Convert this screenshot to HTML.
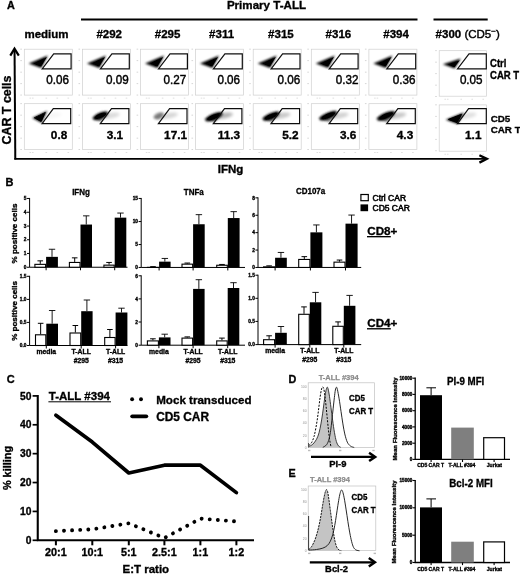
<!DOCTYPE html>
<html><head><meta charset="utf-8"><title>Figure</title>
<style>
html,body{margin:0;padding:0;background:#fff;}
svg{display:block;font-family:"Liberation Sans", Arial, sans-serif;}
text{fill:#000;}
.b{font-weight:bold;stroke:#000;stroke-width:0.34px;paint-order:stroke;}
.r{stroke:#000;stroke-width:0.42px;}
</style></head><body>
<svg width="520" height="574" viewBox="0 0 520 574">
<defs>
<filter id="bl" x="-30%" y="-30%" width="160%" height="160%"><feGaussianBlur stdDeviation="0.9"/></filter>
<filter id="bl2" x="-30%" y="-30%" width="160%" height="160%"><feGaussianBlur stdDeviation="1.6"/></filter>
<filter id="soft" x="-5%" y="-5%" width="110%" height="110%"><feGaussianBlur stdDeviation="0.35"/></filter>
</defs>
<rect width="520" height="574" fill="#fff"/>
<g filter="url(#soft)">

<text class="b" x="7" y="8.7" font-size="10.8">A</text>
<text class="b" x="266.5" y="9.1" font-size="11.6" text-anchor="middle">Primary T-ALL</text>
<rect x="81" y="18.5" width="336.5" height="2" fill="#000"/>
<rect x="433.5" y="18.5" width="54.2" height="2" fill="#000"/>
<text class="b" x="46.5" y="38.2" font-size="11.5" text-anchor="middle">medium</text>
<text class="b" x="109.2" y="38.2" font-size="11.5" text-anchor="middle">#292</text>
<text class="b" x="167.6" y="38.2" font-size="11.5" text-anchor="middle">#295</text>
<text class="b" x="221.6" y="38.2" font-size="11.5" text-anchor="middle">#311</text>
<text class="b" x="280.9" y="38.2" font-size="11.5" text-anchor="middle">#315</text>
<text class="b" x="338.4" y="38.2" font-size="11.5" text-anchor="middle">#316</text>
<text class="b" x="396.1" y="38.2" font-size="11.5" text-anchor="middle">#394</text>
<text x="435.6" y="38.2" font-size="11.5"><tspan class="b">#300</tspan><tspan class="r"> (CD5</tspan><tspan class="r" dy="-4" font-size="8">−</tspan><tspan class="r" dy="4">)</tspan></text>
<g transform="translate(24.3,49.2)">
<rect x="0" y="0.0" width="48.0" height="45.9" fill="#fff" stroke="#cfcfcf" stroke-width="0.7"/>
<rect x="-4.0" y="-0.5" width="1.6" height="0.9" fill="#d2d2d2"/>
<rect x="-4.0" y="11.0" width="1.6" height="0.9" fill="#d2d2d2"/>
<rect x="-4.0" y="22.5" width="1.6" height="0.9" fill="#d2d2d2"/>
<rect x="-4.0" y="34.0" width="1.6" height="0.9" fill="#d2d2d2"/>
<rect x="-4.0" y="45.4" width="1.6" height="0.9" fill="#d2d2d2"/>
<rect x="5.2" y="48.5" width="1.6" height="0.8" fill="#d8d8d8"/>
<rect x="7.7" y="48.5" width="1.6" height="0.8" fill="#d8d8d8"/>
<rect x="21.2" y="48.5" width="1.6" height="0.8" fill="#d8d8d8"/>
<rect x="32.2" y="48.5" width="1.6" height="0.8" fill="#d8d8d8"/>
<rect x="43.2" y="48.5" width="1.6" height="0.8" fill="#d8d8d8"/>
<polygon points="4.4,14.4 23.6,6.3 16.8,18.8" fill="#000" filter="url(#bl)"/>
<polygon points="9.5,14.2 22.6,7.8 16.8,17.4" fill="#000"/>
<polygon points="29.4,4.6 46.8,4.6 46.8,19.6 17.9,19.6" fill="none" stroke="#111" stroke-width="1.2"/>
<text class="r" x="44.6" y="34.7" font-size="12" text-anchor="end" textLength="22.7" lengthAdjust="spacingAndGlyphs">0.06</text>
</g>
<g transform="translate(82.5,49.2)">
<rect x="0" y="0.0" width="48.0" height="45.9" fill="#fff" stroke="#cfcfcf" stroke-width="0.7"/>
<rect x="-4.0" y="-0.5" width="1.6" height="0.9" fill="#d2d2d2"/>
<rect x="-4.0" y="11.0" width="1.6" height="0.9" fill="#d2d2d2"/>
<rect x="-4.0" y="22.5" width="1.6" height="0.9" fill="#d2d2d2"/>
<rect x="-4.0" y="34.0" width="1.6" height="0.9" fill="#d2d2d2"/>
<rect x="-4.0" y="45.4" width="1.6" height="0.9" fill="#d2d2d2"/>
<rect x="5.2" y="48.5" width="1.6" height="0.8" fill="#d8d8d8"/>
<rect x="7.7" y="48.5" width="1.6" height="0.8" fill="#d8d8d8"/>
<rect x="21.2" y="48.5" width="1.6" height="0.8" fill="#d8d8d8"/>
<rect x="32.2" y="48.5" width="1.6" height="0.8" fill="#d8d8d8"/>
<rect x="43.2" y="48.5" width="1.6" height="0.8" fill="#d8d8d8"/>
<polygon points="4.4,14.4 23.6,6.3 16.8,18.8" fill="#000" filter="url(#bl)"/>
<polygon points="9.5,14.2 22.6,7.8 16.8,17.4" fill="#000"/>
<polygon points="29.4,4.6 46.8,4.6 46.8,19.6 17.9,19.6" fill="none" stroke="#111" stroke-width="1.2"/>
<text class="r" x="46.3" y="34.7" font-size="12" text-anchor="end" textLength="22.7" lengthAdjust="spacingAndGlyphs">0.09</text>
</g>
<g transform="translate(140.6,49.2)">
<rect x="0" y="0.0" width="48.0" height="45.9" fill="#fff" stroke="#cfcfcf" stroke-width="0.7"/>
<rect x="-4.0" y="-0.5" width="1.6" height="0.9" fill="#d2d2d2"/>
<rect x="-4.0" y="11.0" width="1.6" height="0.9" fill="#d2d2d2"/>
<rect x="-4.0" y="22.5" width="1.6" height="0.9" fill="#d2d2d2"/>
<rect x="-4.0" y="34.0" width="1.6" height="0.9" fill="#d2d2d2"/>
<rect x="-4.0" y="45.4" width="1.6" height="0.9" fill="#d2d2d2"/>
<rect x="5.2" y="48.5" width="1.6" height="0.8" fill="#d8d8d8"/>
<rect x="7.7" y="48.5" width="1.6" height="0.8" fill="#d8d8d8"/>
<rect x="21.2" y="48.5" width="1.6" height="0.8" fill="#d8d8d8"/>
<rect x="32.2" y="48.5" width="1.6" height="0.8" fill="#d8d8d8"/>
<rect x="43.2" y="48.5" width="1.6" height="0.8" fill="#d8d8d8"/>
<polygon points="4.4,14.4 23.6,6.3 16.8,18.8" fill="#000" filter="url(#bl)"/>
<polygon points="9.5,14.2 22.6,7.8 16.8,17.4" fill="#000"/>
<polygon points="29.4,4.6 46.8,4.6 46.8,19.6 17.9,19.6" fill="none" stroke="#111" stroke-width="1.2"/>
<text class="r" x="45.6" y="34.7" font-size="12" text-anchor="end" textLength="22.7" lengthAdjust="spacingAndGlyphs">0.27</text>
</g>
<g transform="translate(195.5,49.2)">
<rect x="0" y="0.0" width="48.0" height="45.9" fill="#fff" stroke="#cfcfcf" stroke-width="0.7"/>
<rect x="-4.0" y="-0.5" width="1.6" height="0.9" fill="#d2d2d2"/>
<rect x="-4.0" y="11.0" width="1.6" height="0.9" fill="#d2d2d2"/>
<rect x="-4.0" y="22.5" width="1.6" height="0.9" fill="#d2d2d2"/>
<rect x="-4.0" y="34.0" width="1.6" height="0.9" fill="#d2d2d2"/>
<rect x="-4.0" y="45.4" width="1.6" height="0.9" fill="#d2d2d2"/>
<rect x="5.2" y="48.5" width="1.6" height="0.8" fill="#d8d8d8"/>
<rect x="7.7" y="48.5" width="1.6" height="0.8" fill="#d8d8d8"/>
<rect x="21.2" y="48.5" width="1.6" height="0.8" fill="#d8d8d8"/>
<rect x="32.2" y="48.5" width="1.6" height="0.8" fill="#d8d8d8"/>
<rect x="43.2" y="48.5" width="1.6" height="0.8" fill="#d8d8d8"/>
<polygon points="4.4,14.4 23.6,6.3 16.8,18.8" fill="#000" filter="url(#bl)"/>
<polygon points="9.5,14.2 22.6,7.8 16.8,17.4" fill="#000"/>
<polygon points="29.4,4.6 46.8,4.6 46.8,19.6 17.9,19.6" fill="none" stroke="#111" stroke-width="1.2"/>
<text class="r" x="44.6" y="34.7" font-size="12" text-anchor="end" textLength="22.7" lengthAdjust="spacingAndGlyphs">0.06</text>
</g>
<g transform="translate(253.2,49.2)">
<rect x="0" y="0.0" width="48.0" height="45.9" fill="#fff" stroke="#cfcfcf" stroke-width="0.7"/>
<rect x="-4.0" y="-0.5" width="1.6" height="0.9" fill="#d2d2d2"/>
<rect x="-4.0" y="11.0" width="1.6" height="0.9" fill="#d2d2d2"/>
<rect x="-4.0" y="22.5" width="1.6" height="0.9" fill="#d2d2d2"/>
<rect x="-4.0" y="34.0" width="1.6" height="0.9" fill="#d2d2d2"/>
<rect x="-4.0" y="45.4" width="1.6" height="0.9" fill="#d2d2d2"/>
<rect x="5.2" y="48.5" width="1.6" height="0.8" fill="#d8d8d8"/>
<rect x="7.7" y="48.5" width="1.6" height="0.8" fill="#d8d8d8"/>
<rect x="21.2" y="48.5" width="1.6" height="0.8" fill="#d8d8d8"/>
<rect x="32.2" y="48.5" width="1.6" height="0.8" fill="#d8d8d8"/>
<rect x="43.2" y="48.5" width="1.6" height="0.8" fill="#d8d8d8"/>
<polygon points="4.4,14.4 23.6,6.3 16.8,18.8" fill="#000" filter="url(#bl)"/>
<polygon points="9.5,14.2 22.6,7.8 16.8,17.4" fill="#000"/>
<polygon points="29.4,4.6 46.8,4.6 46.8,19.6 17.9,19.6" fill="none" stroke="#111" stroke-width="1.2"/>
<text class="r" x="47.1" y="34.7" font-size="12" text-anchor="end" textLength="22.7" lengthAdjust="spacingAndGlyphs">0.06</text>
</g>
<g transform="translate(311.3,49.2)">
<rect x="0" y="0.0" width="48.0" height="45.9" fill="#fff" stroke="#cfcfcf" stroke-width="0.7"/>
<rect x="-4.0" y="-0.5" width="1.6" height="0.9" fill="#d2d2d2"/>
<rect x="-4.0" y="11.0" width="1.6" height="0.9" fill="#d2d2d2"/>
<rect x="-4.0" y="22.5" width="1.6" height="0.9" fill="#d2d2d2"/>
<rect x="-4.0" y="34.0" width="1.6" height="0.9" fill="#d2d2d2"/>
<rect x="-4.0" y="45.4" width="1.6" height="0.9" fill="#d2d2d2"/>
<rect x="5.2" y="48.5" width="1.6" height="0.8" fill="#d8d8d8"/>
<rect x="7.7" y="48.5" width="1.6" height="0.8" fill="#d8d8d8"/>
<rect x="21.2" y="48.5" width="1.6" height="0.8" fill="#d8d8d8"/>
<rect x="32.2" y="48.5" width="1.6" height="0.8" fill="#d8d8d8"/>
<rect x="43.2" y="48.5" width="1.6" height="0.8" fill="#d8d8d8"/>
<polygon points="4.4,14.4 23.6,6.3 16.8,18.8" fill="#000" filter="url(#bl)"/>
<polygon points="9.5,14.2 22.6,7.8 16.8,17.4" fill="#000"/>
<polygon points="29.4,4.6 46.8,4.6 46.8,19.6 17.9,19.6" fill="none" stroke="#111" stroke-width="1.2"/>
<text class="r" x="47.1" y="34.7" font-size="12" text-anchor="end" textLength="22.7" lengthAdjust="spacingAndGlyphs">0.32</text>
</g>
<g transform="translate(368.9,49.2)">
<rect x="0" y="0.0" width="48.0" height="45.9" fill="#fff" stroke="#cfcfcf" stroke-width="0.7"/>
<rect x="-4.0" y="-0.5" width="1.6" height="0.9" fill="#d2d2d2"/>
<rect x="-4.0" y="11.0" width="1.6" height="0.9" fill="#d2d2d2"/>
<rect x="-4.0" y="22.5" width="1.6" height="0.9" fill="#d2d2d2"/>
<rect x="-4.0" y="34.0" width="1.6" height="0.9" fill="#d2d2d2"/>
<rect x="-4.0" y="45.4" width="1.6" height="0.9" fill="#d2d2d2"/>
<rect x="5.2" y="48.5" width="1.6" height="0.8" fill="#d8d8d8"/>
<rect x="7.7" y="48.5" width="1.6" height="0.8" fill="#d8d8d8"/>
<rect x="21.2" y="48.5" width="1.6" height="0.8" fill="#d8d8d8"/>
<rect x="32.2" y="48.5" width="1.6" height="0.8" fill="#d8d8d8"/>
<rect x="43.2" y="48.5" width="1.6" height="0.8" fill="#d8d8d8"/>
<polygon points="4.4,14.4 23.6,6.3 16.8,18.8" fill="#000" filter="url(#bl)"/>
<polygon points="9.5,14.2 22.6,7.8 16.8,17.4" fill="#000"/>
<polygon points="29.4,4.6 46.8,4.6 46.8,19.6 17.9,19.6" fill="none" stroke="#111" stroke-width="1.2"/>
<text class="r" x="46.6" y="34.7" font-size="12" text-anchor="end" textLength="22.7" lengthAdjust="spacingAndGlyphs">0.36</text>
</g>
<g transform="translate(439.2,49.2)">
<rect x="0" y="1.5" width="47.3" height="45.5" fill="#fff" stroke="#cfcfcf" stroke-width="0.7"/>
<rect x="-4.0" y="1.0" width="1.6" height="0.9" fill="#d2d2d2"/>
<rect x="-4.0" y="12.5" width="1.6" height="0.9" fill="#d2d2d2"/>
<rect x="-4.0" y="24.0" width="1.6" height="0.9" fill="#d2d2d2"/>
<rect x="-4.0" y="35.5" width="1.6" height="0.9" fill="#d2d2d2"/>
<rect x="-4.0" y="46.9" width="1.6" height="0.9" fill="#d2d2d2"/>
<rect x="5.2" y="49.6" width="1.6" height="0.8" fill="#d8d8d8"/>
<rect x="7.7" y="49.6" width="1.6" height="0.8" fill="#d8d8d8"/>
<rect x="21.2" y="49.6" width="1.6" height="0.8" fill="#d8d8d8"/>
<rect x="32.2" y="49.6" width="1.6" height="0.8" fill="#d8d8d8"/>
<rect x="43.2" y="49.6" width="1.6" height="0.8" fill="#d8d8d8"/>
<polygon points="3.6,15.1 21.6,9.4 15.4,19.4" fill="#000" filter="url(#bl)"/>
<polygon points="8.5,15.2 20.6,11 15.2,18" fill="#000"/>
<polygon points="29.799999999999997,4.6 47.1,4.6 47.1,19.6 18.299999999999997,19.6" fill="none" stroke="#111" stroke-width="1.2"/>
<text class="r" x="43.4" y="34.7" font-size="12" text-anchor="end" textLength="22.7" lengthAdjust="spacingAndGlyphs">0.05</text>
</g>
<g transform="translate(24.3,103.7)">
<rect x="0" y="0.0" width="48.0" height="45.9" fill="#fff" stroke="#cfcfcf" stroke-width="0.7"/>
<rect x="-4.0" y="-0.5" width="1.6" height="0.9" fill="#d2d2d2"/>
<rect x="-4.0" y="11.0" width="1.6" height="0.9" fill="#d2d2d2"/>
<rect x="-4.0" y="22.5" width="1.6" height="0.9" fill="#d2d2d2"/>
<rect x="-4.0" y="34.0" width="1.6" height="0.9" fill="#d2d2d2"/>
<rect x="-4.0" y="45.4" width="1.6" height="0.9" fill="#d2d2d2"/>
<rect x="5.2" y="48.5" width="1.6" height="0.8" fill="#d8d8d8"/>
<rect x="7.7" y="48.5" width="1.6" height="0.8" fill="#d8d8d8"/>
<rect x="21.2" y="48.5" width="1.6" height="0.8" fill="#d8d8d8"/>
<rect x="32.2" y="48.5" width="1.6" height="0.8" fill="#d8d8d8"/>
<rect x="43.2" y="48.5" width="1.6" height="0.8" fill="#d8d8d8"/>
<ellipse cx="28" cy="12" rx="9.5" ry="2.8" fill="#000" opacity="0.03" filter="url(#bl2)" transform="rotate(-10 28 12)"/>
<polygon points="7.8,14.3 23.0,7.0 17.2,19.4" fill="#000" opacity="0.9" filter="url(#bl)"/>
<polygon points="10.1,14.1 21.0,8.8 16.9,17.8" fill="#000" stroke="#000" stroke-width="1" stroke-linejoin="round" opacity="0.9500000000000001"/>
<polygon points="29.0,4.85 46.4,4.85 46.4,19.85 17.8,19.85" fill="none" stroke="#111" stroke-width="1.2"/>
<text class="b" x="34.75" y="34.85" font-size="11.8" text-anchor="middle">0.8</text>
</g>
<g transform="translate(82.5,103.7)">
<rect x="0" y="0.0" width="48.0" height="45.9" fill="#fff" stroke="#cfcfcf" stroke-width="0.7"/>
<rect x="-4.0" y="-0.5" width="1.6" height="0.9" fill="#d2d2d2"/>
<rect x="-4.0" y="11.0" width="1.6" height="0.9" fill="#d2d2d2"/>
<rect x="-4.0" y="22.5" width="1.6" height="0.9" fill="#d2d2d2"/>
<rect x="-4.0" y="34.0" width="1.6" height="0.9" fill="#d2d2d2"/>
<rect x="-4.0" y="45.4" width="1.6" height="0.9" fill="#d2d2d2"/>
<rect x="5.2" y="48.5" width="1.6" height="0.8" fill="#d8d8d8"/>
<rect x="7.7" y="48.5" width="1.6" height="0.8" fill="#d8d8d8"/>
<rect x="21.2" y="48.5" width="1.6" height="0.8" fill="#d8d8d8"/>
<rect x="32.2" y="48.5" width="1.6" height="0.8" fill="#d8d8d8"/>
<rect x="43.2" y="48.5" width="1.6" height="0.8" fill="#d8d8d8"/>
<ellipse cx="28" cy="12" rx="9.5" ry="2.8" fill="#000" opacity="0.14" filter="url(#bl2)" transform="rotate(-10 28 12)"/>
<polygon points="9.6,14.3 25.0,7.2 18.0,18.0" fill="#000" opacity="0.5" filter="url(#bl)"/>
<ellipse cx="17.9" cy="12.1" rx="8.1" ry="3.1" fill="#000" opacity="1.0" filter="url(#bl)" transform="rotate(-23 17.9 12.1)"/>
<ellipse cx="17.9" cy="12.1" rx="6.1" ry="2.2" fill="#000" transform="rotate(-23 17.9 12.1)"/>
<polygon points="29.0,4.85 46.4,4.85 46.4,19.85 17.8,19.85" fill="none" stroke="#111" stroke-width="1.2"/>
<text class="b" x="32.35" y="34.85" font-size="11.8" text-anchor="middle">3.1</text>
</g>
<g transform="translate(140.6,103.7)">
<rect x="0" y="0.0" width="48.0" height="45.9" fill="#fff" stroke="#cfcfcf" stroke-width="0.7"/>
<rect x="-4.0" y="-0.5" width="1.6" height="0.9" fill="#d2d2d2"/>
<rect x="-4.0" y="11.0" width="1.6" height="0.9" fill="#d2d2d2"/>
<rect x="-4.0" y="22.5" width="1.6" height="0.9" fill="#d2d2d2"/>
<rect x="-4.0" y="34.0" width="1.6" height="0.9" fill="#d2d2d2"/>
<rect x="-4.0" y="45.4" width="1.6" height="0.9" fill="#d2d2d2"/>
<rect x="5.2" y="48.5" width="1.6" height="0.8" fill="#d8d8d8"/>
<rect x="7.7" y="48.5" width="1.6" height="0.8" fill="#d8d8d8"/>
<rect x="21.2" y="48.5" width="1.6" height="0.8" fill="#d8d8d8"/>
<rect x="32.2" y="48.5" width="1.6" height="0.8" fill="#d8d8d8"/>
<rect x="43.2" y="48.5" width="1.6" height="0.8" fill="#d8d8d8"/>
<ellipse cx="28" cy="12" rx="9.5" ry="2.8" fill="#000" opacity="0.16" filter="url(#bl2)" transform="rotate(-10 28 12)"/>
<polygon points="12.5,13.6 22.5,8.0 18.0,16.2" fill="#000" opacity="0.2" filter="url(#bl)"/>
<ellipse cx="18.1" cy="12.1" rx="5.4" ry="3.1" fill="#000" opacity="0.4" filter="url(#bl)" transform="rotate(-23 18.1 12.1)"/>
<polygon points="29.0,4.85 46.4,4.85 46.4,19.85 17.8,19.85" fill="none" stroke="#111" stroke-width="1.2"/>
<text class="b" x="35.0" y="34.85" font-size="11.8" text-anchor="middle">17.1</text>
</g>
<g transform="translate(195.5,103.7)">
<rect x="0" y="0.0" width="48.0" height="45.9" fill="#fff" stroke="#cfcfcf" stroke-width="0.7"/>
<rect x="-4.0" y="-0.5" width="1.6" height="0.9" fill="#d2d2d2"/>
<rect x="-4.0" y="11.0" width="1.6" height="0.9" fill="#d2d2d2"/>
<rect x="-4.0" y="22.5" width="1.6" height="0.9" fill="#d2d2d2"/>
<rect x="-4.0" y="34.0" width="1.6" height="0.9" fill="#d2d2d2"/>
<rect x="-4.0" y="45.4" width="1.6" height="0.9" fill="#d2d2d2"/>
<rect x="5.2" y="48.5" width="1.6" height="0.8" fill="#d8d8d8"/>
<rect x="7.7" y="48.5" width="1.6" height="0.8" fill="#d8d8d8"/>
<rect x="21.2" y="48.5" width="1.6" height="0.8" fill="#d8d8d8"/>
<rect x="32.2" y="48.5" width="1.6" height="0.8" fill="#d8d8d8"/>
<rect x="43.2" y="48.5" width="1.6" height="0.8" fill="#d8d8d8"/>
<ellipse cx="28" cy="12" rx="9.5" ry="2.8" fill="#000" opacity="0.3" filter="url(#bl2)" transform="rotate(-10 28 12)"/>
<polygon points="8.6,15.3 27.0,8.2 19.5,18.4" fill="#000" opacity="0.5" filter="url(#bl)"/>
<ellipse cx="18.4" cy="13.1" rx="9.4" ry="3.1" fill="#000" opacity="1.0" filter="url(#bl)" transform="rotate(-23 18.4 13.1)"/>
<ellipse cx="18.4" cy="13.1" rx="7.1" ry="2.2" fill="#000" transform="rotate(-23 18.4 13.1)"/>
<polygon points="29.0,4.85 46.4,4.85 46.4,19.85 17.8,19.85" fill="none" stroke="#111" stroke-width="1.2"/>
<text class="b" x="33.5" y="34.85" font-size="11.8" text-anchor="middle">11.3</text>
</g>
<g transform="translate(253.2,103.7)">
<rect x="0" y="0.0" width="48.0" height="45.9" fill="#fff" stroke="#cfcfcf" stroke-width="0.7"/>
<rect x="-4.0" y="-0.5" width="1.6" height="0.9" fill="#d2d2d2"/>
<rect x="-4.0" y="11.0" width="1.6" height="0.9" fill="#d2d2d2"/>
<rect x="-4.0" y="22.5" width="1.6" height="0.9" fill="#d2d2d2"/>
<rect x="-4.0" y="34.0" width="1.6" height="0.9" fill="#d2d2d2"/>
<rect x="-4.0" y="45.4" width="1.6" height="0.9" fill="#d2d2d2"/>
<rect x="5.2" y="48.5" width="1.6" height="0.8" fill="#d8d8d8"/>
<rect x="7.7" y="48.5" width="1.6" height="0.8" fill="#d8d8d8"/>
<rect x="21.2" y="48.5" width="1.6" height="0.8" fill="#d8d8d8"/>
<rect x="32.2" y="48.5" width="1.6" height="0.8" fill="#d8d8d8"/>
<rect x="43.2" y="48.5" width="1.6" height="0.8" fill="#d8d8d8"/>
<ellipse cx="28" cy="12" rx="9.5" ry="2.8" fill="#000" opacity="0.22" filter="url(#bl2)" transform="rotate(-10 28 12)"/>
<polygon points="8.6,14.8 26.0,7.6 18.5,18.4" fill="#000" opacity="0.5" filter="url(#bl)"/>
<ellipse cx="17.9" cy="12.5" rx="8.9" ry="3.1" fill="#000" opacity="1.0" filter="url(#bl)" transform="rotate(-23 17.9 12.5)"/>
<ellipse cx="17.9" cy="12.5" rx="6.8" ry="2.2" fill="#000" transform="rotate(-23 17.9 12.5)"/>
<polygon points="29.0,4.85 46.4,4.85 46.4,19.85 17.8,19.85" fill="none" stroke="#111" stroke-width="1.2"/>
<text class="b" x="37.2" y="34.85" font-size="11.8" text-anchor="middle">5.2</text>
</g>
<g transform="translate(311.3,103.7)">
<rect x="0" y="0.0" width="48.0" height="45.9" fill="#fff" stroke="#cfcfcf" stroke-width="0.7"/>
<rect x="-4.0" y="-0.5" width="1.6" height="0.9" fill="#d2d2d2"/>
<rect x="-4.0" y="11.0" width="1.6" height="0.9" fill="#d2d2d2"/>
<rect x="-4.0" y="22.5" width="1.6" height="0.9" fill="#d2d2d2"/>
<rect x="-4.0" y="34.0" width="1.6" height="0.9" fill="#d2d2d2"/>
<rect x="-4.0" y="45.4" width="1.6" height="0.9" fill="#d2d2d2"/>
<rect x="5.2" y="48.5" width="1.6" height="0.8" fill="#d8d8d8"/>
<rect x="7.7" y="48.5" width="1.6" height="0.8" fill="#d8d8d8"/>
<rect x="21.2" y="48.5" width="1.6" height="0.8" fill="#d8d8d8"/>
<rect x="32.2" y="48.5" width="1.6" height="0.8" fill="#d8d8d8"/>
<rect x="43.2" y="48.5" width="1.6" height="0.8" fill="#d8d8d8"/>
<ellipse cx="28" cy="12" rx="9.5" ry="2.8" fill="#000" opacity="0.18" filter="url(#bl2)" transform="rotate(-10 28 12)"/>
<polygon points="7.0,14.6 25.5,6.8 18.0,18.6" fill="#000" opacity="0.5" filter="url(#bl)"/>
<ellipse cx="16.9" cy="12.0" rx="9.5" ry="3.1" fill="#000" opacity="1.0" filter="url(#bl)" transform="rotate(-23 16.9 12.0)"/>
<ellipse cx="16.9" cy="12.0" rx="7.2" ry="2.2" fill="#000" transform="rotate(-23 16.9 12.0)"/>
<polygon points="29.0,4.85 46.4,4.85 46.4,19.85 17.8,19.85" fill="none" stroke="#111" stroke-width="1.2"/>
<text class="b" x="36.8" y="34.85" font-size="11.8" text-anchor="middle">3.6</text>
</g>
<g transform="translate(368.9,103.7)">
<rect x="0" y="0.0" width="48.0" height="45.9" fill="#fff" stroke="#cfcfcf" stroke-width="0.7"/>
<rect x="-4.0" y="-0.5" width="1.6" height="0.9" fill="#d2d2d2"/>
<rect x="-4.0" y="11.0" width="1.6" height="0.9" fill="#d2d2d2"/>
<rect x="-4.0" y="22.5" width="1.6" height="0.9" fill="#d2d2d2"/>
<rect x="-4.0" y="34.0" width="1.6" height="0.9" fill="#d2d2d2"/>
<rect x="-4.0" y="45.4" width="1.6" height="0.9" fill="#d2d2d2"/>
<rect x="5.2" y="48.5" width="1.6" height="0.8" fill="#d8d8d8"/>
<rect x="7.7" y="48.5" width="1.6" height="0.8" fill="#d8d8d8"/>
<rect x="21.2" y="48.5" width="1.6" height="0.8" fill="#d8d8d8"/>
<rect x="32.2" y="48.5" width="1.6" height="0.8" fill="#d8d8d8"/>
<rect x="43.2" y="48.5" width="1.6" height="0.8" fill="#d8d8d8"/>
<ellipse cx="28" cy="12" rx="9.5" ry="2.8" fill="#000" opacity="0.22" filter="url(#bl2)" transform="rotate(-10 28 12)"/>
<polygon points="7.0,14.6 26.0,7.2 18.2,18.6" fill="#000" opacity="0.5" filter="url(#bl)"/>
<ellipse cx="17.1" cy="12.2" rx="9.7" ry="3.1" fill="#000" opacity="1.0" filter="url(#bl)" transform="rotate(-23 17.1 12.2)"/>
<ellipse cx="17.1" cy="12.2" rx="7.3" ry="2.2" fill="#000" transform="rotate(-23 17.1 12.2)"/>
<polygon points="29.0,4.85 46.4,4.85 46.4,19.85 17.8,19.85" fill="none" stroke="#111" stroke-width="1.2"/>
<text class="b" x="36.1" y="34.85" font-size="11.8" text-anchor="middle">4.3</text>
</g>
<g transform="translate(439.2,103.7)">
<rect x="0" y="1.2" width="47.3" height="46.3" fill="#fff" stroke="#cfcfcf" stroke-width="0.7"/>
<rect x="-4.0" y="0.7" width="1.6" height="0.9" fill="#d2d2d2"/>
<rect x="-4.0" y="12.2" width="1.6" height="0.9" fill="#d2d2d2"/>
<rect x="-4.0" y="23.7" width="1.6" height="0.9" fill="#d2d2d2"/>
<rect x="-4.0" y="35.2" width="1.6" height="0.9" fill="#d2d2d2"/>
<rect x="-4.0" y="46.6" width="1.6" height="0.9" fill="#d2d2d2"/>
<rect x="5.2" y="50.1" width="1.6" height="0.8" fill="#d8d8d8"/>
<rect x="7.7" y="50.1" width="1.6" height="0.8" fill="#d8d8d8"/>
<rect x="21.2" y="50.1" width="1.6" height="0.8" fill="#d8d8d8"/>
<rect x="32.2" y="50.1" width="1.6" height="0.8" fill="#d8d8d8"/>
<rect x="43.2" y="50.1" width="1.6" height="0.8" fill="#d8d8d8"/>
<ellipse cx="28" cy="12" rx="9.5" ry="2.8" fill="#000" opacity="0.12" filter="url(#bl2)" transform="rotate(-10 28 12)"/>
<polygon points="6.4,16.0 24.6,8.8 18.6,20.4" fill="#000" opacity="1.0" filter="url(#bl)"/>
<polygon points="9.2,15.7 22.3,10.6 18.0,18.9" fill="#000" stroke="#000" stroke-width="1" stroke-linejoin="round" opacity="1"/>
<polygon points="29.4,4.85 47.1,4.85 47.1,19.85 18.2,19.85" fill="none" stroke="#111" stroke-width="1.2"/>
<text class="b" x="34.05" y="34.85" font-size="11.8" text-anchor="middle">1.1</text>
</g>
<path d="M15.3,159.6 L14.55,50" stroke="#000" stroke-width="2" fill="none"/>
<path d="M10.3,55.6 L14.5,48.7 L18.8,55.6" stroke="#000" stroke-width="2.2" fill="none" stroke-linejoin="miter"/>
<path d="M14.3,158.85 H486" stroke="#000" stroke-width="1.9" fill="none"/>
<path d="M479.4,155.2 L486.9,158.85 L479.4,162.6" stroke="#000" stroke-width="2.3" fill="none" stroke-linejoin="miter"/>
<text class="b" transform="translate(10.6,110) rotate(-90)" font-size="12.4" text-anchor="middle">CAR T cells</text>
<text class="b" x="230.5" y="173" font-size="11.5" text-anchor="middle">IFNg</text>
<text class="b" transform="translate(490,67.1) scale(0.955,1)" font-size="10" text-anchor="start">Ctrl</text>
<text class="b" transform="translate(490,78.9) scale(0.955,1)" font-size="10" text-anchor="start">CAR T</text>
<text class="b" transform="translate(490.7,121.8) scale(1.0,1)" font-size="9.8" text-anchor="start">CD5</text>
<text class="b" transform="translate(490.7,133.3) scale(1.0,1)" font-size="9.8" text-anchor="start">CAR T</text>
<text class="b" x="5.6" y="186.3" font-size="11">B</text>
<g transform="translate(0,0.45)">
<path d="M29.6,197.5 V266.8 H127.5" stroke="#000" stroke-width="1" fill="none"/>
<rect x="27.0" y="197.5" width="2.6" height="1" fill="#000"/>
<text class="b" x="26.400000000000002" y="199.7" font-size="4.8" text-anchor="end">5</text>
<rect x="27.0" y="211.3" width="2.6" height="1" fill="#000"/>
<text class="b" x="26.400000000000002" y="213.5" font-size="4.8" text-anchor="end">4</text>
<rect x="27.0" y="225.1" width="2.6" height="1" fill="#000"/>
<text class="b" x="26.400000000000002" y="227.29999999999998" font-size="4.8" text-anchor="end">3</text>
<rect x="27.0" y="238.8" width="2.6" height="1" fill="#000"/>
<text class="b" x="26.400000000000002" y="241.0" font-size="4.8" text-anchor="end">2</text>
<rect x="27.0" y="252.5" width="2.6" height="1" fill="#000"/>
<text class="b" x="26.400000000000002" y="254.7" font-size="4.8" text-anchor="end">1</text>
<rect x="27.0" y="266.3" width="2.6" height="1" fill="#000"/>
<text class="b" x="26.400000000000002" y="268.5" font-size="4.8" text-anchor="end">0</text>
<text class="b" transform="translate(81,195) scale(0.85,1)" font-size="9.4" text-anchor="middle">IFNg</text>
<path d="M40.25,263.4 V260.4 M37.45,260.4 H43.05" stroke="#000" stroke-width="1.0" fill="none"/>
<path d="M52.0,256.4 V248.8 M48.8,248.8 H55.2" stroke="#000" stroke-width="0.9" fill="none"/>
<rect x="34.9" y="263.9" width="10.700000000000003" height="2.900000000000034" fill="#fff" stroke="#000" stroke-width="1.1"/>
<rect x="46.1" y="256.4" width="11.799999999999997" height="10.400000000000034" fill="#000"/>
<rect x="45.6" y="266.8" width="1" height="3" fill="#000"/>
<path d="M74.7,261.5 V257.4 M71.9,257.4 H77.5" stroke="#000" stroke-width="1.0" fill="none"/>
<path d="M86.25,224.1 V215.4 M83.05,215.4 H89.45" stroke="#000" stroke-width="0.9" fill="none"/>
<rect x="69.4" y="262.0" width="10.599999999999994" height="4.800000000000011" fill="#fff" stroke="#000" stroke-width="1.1"/>
<rect x="80.5" y="224.1" width="11.5" height="42.70000000000002" fill="#000"/>
<rect x="80.0" y="266.8" width="1" height="3" fill="#000"/>
<path d="M109.05000000000001,264.2 V262 M106.25000000000001,262 H111.85000000000001" stroke="#000" stroke-width="1.0" fill="none"/>
<path d="M120.5,217.2 V212.6 M117.3,212.6 H123.7" stroke="#000" stroke-width="0.9" fill="none"/>
<rect x="103.9" y="264.7" width="10.299999999999997" height="2.1000000000000227" fill="#fff" stroke="#000" stroke-width="1.1"/>
<rect x="114.7" y="217.2" width="11.599999999999994" height="49.60000000000002" fill="#000"/>
<rect x="114.2" y="266.8" width="1" height="3" fill="#000"/>
<path d="M141.2,197.5 V267 H245" stroke="#000" stroke-width="1" fill="none"/>
<rect x="138.6" y="197.5" width="2.6" height="1" fill="#000"/>
<text class="b" x="138.0" y="199.7" font-size="4.8" text-anchor="end">15</text>
<rect x="138.6" y="220.6" width="2.6" height="1" fill="#000"/>
<text class="b" x="138.0" y="222.79999999999998" font-size="4.8" text-anchor="end">10</text>
<rect x="138.6" y="243.6" width="2.6" height="1" fill="#000"/>
<text class="b" x="138.0" y="245.79999999999998" font-size="4.8" text-anchor="end">5</text>
<rect x="138.6" y="266.5" width="2.6" height="1" fill="#000"/>
<text class="b" x="138.0" y="268.7" font-size="4.8" text-anchor="end">0</text>
<text class="b" transform="translate(193.8,194.6) scale(0.85,1)" font-size="9.4" text-anchor="middle">TNFa</text>
<path d="M153.0,266.4 V266.2 M150.2,266.2 H155.8" stroke="#000" stroke-width="1.0" fill="none"/>
<path d="M164.85,261.2 V258 M161.65,258 H168.04999999999998" stroke="#000" stroke-width="0.9" fill="none"/>
<rect x="147.4" y="266.9" width="11.199999999999989" height="0.10000000000002274" fill="#fff" stroke="#000" stroke-width="1.1"/>
<rect x="159.1" y="261.2" width="11.5" height="5.800000000000011" fill="#000"/>
<rect x="158.6" y="267" width="1" height="3" fill="#000"/>
<path d="M187.3,263.2 V262.6 M184.5,262.6 H190.10000000000002" stroke="#000" stroke-width="1.0" fill="none"/>
<path d="M198.89999999999998,223.8 V214.2 M195.7,214.2 H202.09999999999997" stroke="#000" stroke-width="0.9" fill="none"/>
<rect x="182.0" y="263.7" width="10.599999999999994" height="3.3000000000000114" fill="#fff" stroke="#000" stroke-width="1.1"/>
<rect x="193.1" y="223.8" width="11.599999999999994" height="43.19999999999999" fill="#000"/>
<rect x="192.6" y="267" width="1" height="3" fill="#000"/>
<path d="M222.0,264.3 V264 M219.2,264 H224.8" stroke="#000" stroke-width="1.0" fill="none"/>
<path d="M233.7,217.6 V211.2 M230.5,211.2 H236.89999999999998" stroke="#000" stroke-width="0.9" fill="none"/>
<rect x="216.7" y="264.8" width="10.600000000000023" height="2.1999999999999886" fill="#fff" stroke="#000" stroke-width="1.1"/>
<rect x="227.8" y="217.6" width="11.799999999999983" height="49.400000000000006" fill="#000"/>
<rect x="227.3" y="267" width="1" height="3" fill="#000"/>
<path d="M258,196.9 V267 H361.2" stroke="#000" stroke-width="1" fill="none"/>
<rect x="255.4" y="196.9" width="2.6" height="1" fill="#000"/>
<text class="b" x="254.8" y="199.1" font-size="4.8" text-anchor="end">8</text>
<rect x="255.4" y="214.3" width="2.6" height="1" fill="#000"/>
<text class="b" x="254.8" y="216.5" font-size="4.8" text-anchor="end">6</text>
<rect x="255.4" y="231.7" width="2.6" height="1" fill="#000"/>
<text class="b" x="254.8" y="233.89999999999998" font-size="4.8" text-anchor="end">4</text>
<rect x="255.4" y="249.1" width="2.6" height="1" fill="#000"/>
<text class="b" x="254.8" y="251.29999999999998" font-size="4.8" text-anchor="end">2</text>
<rect x="255.4" y="266.5" width="2.6" height="1" fill="#000"/>
<text class="b" x="254.8" y="268.7" font-size="4.8" text-anchor="end">0</text>
<text class="b" transform="translate(310.6,193.5) scale(0.85,1)" font-size="9.4" text-anchor="middle">CD107a</text>
<path d="M269.1,265.9 V265.4 M266.3,265.4 H271.90000000000003" stroke="#000" stroke-width="1.0" fill="none"/>
<path d="M280.95000000000005,257.3 V252 M277.75000000000006,252 H284.15000000000003" stroke="#000" stroke-width="0.9" fill="none"/>
<rect x="263.6" y="266.4" width="11.0" height="0.6000000000000227" fill="#fff" stroke="#000" stroke-width="1.1"/>
<rect x="275.1" y="257.3" width="11.699999999999989" height="9.699999999999989" fill="#000"/>
<rect x="274.6" y="267" width="1" height="3" fill="#000"/>
<path d="M304.29999999999995,258.5 V256.2 M301.49999999999994,256.2 H307.09999999999997" stroke="#000" stroke-width="1.0" fill="none"/>
<path d="M316.4,231.9 V224.5 M313.2,224.5 H319.59999999999997" stroke="#000" stroke-width="0.9" fill="none"/>
<rect x="298.7" y="259.0" width="11.199999999999989" height="8.0" fill="#fff" stroke="#000" stroke-width="1.1"/>
<rect x="310.4" y="231.9" width="12.0" height="35.099999999999994" fill="#000"/>
<rect x="309.9" y="267" width="1" height="3" fill="#000"/>
<path d="M339.5,261.2 V259.6 M336.7,259.6 H342.3" stroke="#000" stroke-width="1.0" fill="none"/>
<path d="M351.55,223.2 V214.6 M348.35,214.6 H354.75" stroke="#000" stroke-width="0.9" fill="none"/>
<rect x="334.0" y="261.7" width="11.0" height="5.300000000000011" fill="#fff" stroke="#000" stroke-width="1.1"/>
<rect x="345.5" y="223.2" width="12.100000000000023" height="43.80000000000001" fill="#000"/>
<rect x="345.0" y="267" width="1" height="3" fill="#000"/>
</g>
<path d="M29.6,275.8 V345.5 H127.5" stroke="#000" stroke-width="1" fill="none"/>
<rect x="27.0" y="275.8" width="2.6" height="1" fill="#000"/>
<text class="b" x="26.400000000000002" y="278.0" font-size="4.8" text-anchor="end">1.5</text>
<rect x="27.0" y="298.9" width="2.6" height="1" fill="#000"/>
<text class="b" x="26.400000000000002" y="301.09999999999997" font-size="4.8" text-anchor="end">1.0</text>
<rect x="27.0" y="321.9" width="2.6" height="1" fill="#000"/>
<text class="b" x="26.400000000000002" y="324.09999999999997" font-size="4.8" text-anchor="end">0.5</text>
<rect x="27.0" y="345.0" width="2.6" height="1" fill="#000"/>
<text class="b" x="26.400000000000002" y="347.2" font-size="4.8" text-anchor="end">0.0</text>
<path d="M40.65,334.3 V323.3 M37.85,323.3 H43.449999999999996" stroke="#000" stroke-width="1.0" fill="none"/>
<path d="M52.15,323.7 V310.5 M48.949999999999996,310.5 H55.35" stroke="#000" stroke-width="0.9" fill="none"/>
<rect x="35.5" y="334.8" width="10.299999999999997" height="10.699999999999989" fill="#fff" stroke="#000" stroke-width="1.1"/>
<rect x="46.3" y="323.7" width="11.700000000000003" height="21.80000000000001" fill="#000"/>
<rect x="45.8" y="345.5" width="1" height="3" fill="#000"/>
<text class="b" x="46.3" y="354.3" font-size="6.8" text-anchor="middle">media</text>
<path d="M75.35,332.5 V325.5 M72.55,325.5 H78.14999999999999" stroke="#000" stroke-width="1.0" fill="none"/>
<path d="M86.9,311.2 V300 M83.7,300 H90.10000000000001" stroke="#000" stroke-width="0.9" fill="none"/>
<rect x="70.0" y="333.0" width="10.700000000000003" height="12.5" fill="#fff" stroke="#000" stroke-width="1.1"/>
<rect x="81.2" y="311.2" width="11.399999999999991" height="34.30000000000001" fill="#000"/>
<rect x="80.7" y="345.5" width="1" height="3" fill="#000"/>
<text class="b" x="81.2" y="354.3" font-size="6.8" text-anchor="middle">T-ALL</text>
<text class="b" x="81.2" y="362.90000000000003" font-size="6.8" text-anchor="middle">#295</text>
<path d="M109.9,337 V329.5 M107.10000000000001,329.5 H112.7" stroke="#000" stroke-width="1.0" fill="none"/>
<path d="M121.5,312.5 V308.2 M118.3,308.2 H124.7" stroke="#000" stroke-width="0.9" fill="none"/>
<rect x="104.7" y="337.5" width="10.399999999999991" height="8.0" fill="#fff" stroke="#000" stroke-width="1.1"/>
<rect x="115.6" y="312.5" width="11.800000000000011" height="33.0" fill="#000"/>
<rect x="115.1" y="345.5" width="1" height="3" fill="#000"/>
<text class="b" x="115.6" y="354.3" font-size="6.8" text-anchor="middle">T-ALL</text>
<text class="b" x="115.6" y="362.90000000000003" font-size="6.8" text-anchor="middle">#315</text>
<path d="M141.2,275.3 V345.2 H245" stroke="#000" stroke-width="1" fill="none"/>
<rect x="138.6" y="275.3" width="2.6" height="1" fill="#000"/>
<text class="b" x="138.0" y="277.5" font-size="4.8" text-anchor="end">6</text>
<rect x="138.6" y="298.4" width="2.6" height="1" fill="#000"/>
<text class="b" x="138.0" y="300.59999999999997" font-size="4.8" text-anchor="end">4</text>
<rect x="138.6" y="321.5" width="2.6" height="1" fill="#000"/>
<text class="b" x="138.0" y="323.7" font-size="4.8" text-anchor="end">2</text>
<rect x="138.6" y="344.7" width="2.6" height="1" fill="#000"/>
<text class="b" x="138.0" y="346.9" font-size="4.8" text-anchor="end">0</text>
<path d="M152.9,340.4 V338.8 M150.1,338.8 H155.70000000000002" stroke="#000" stroke-width="1.0" fill="none"/>
<path d="M164.7,337.4 V334.2 M161.5,334.2 H167.89999999999998" stroke="#000" stroke-width="0.9" fill="none"/>
<rect x="147.4" y="340.9" width="11.0" height="4.300000000000011" fill="#fff" stroke="#000" stroke-width="1.1"/>
<rect x="158.9" y="337.4" width="11.599999999999994" height="7.800000000000011" fill="#000"/>
<rect x="158.4" y="345.2" width="1" height="3" fill="#000"/>
<text class="b" x="158.9" y="354.0" font-size="6.8" text-anchor="middle">media</text>
<path d="M187.3,337.6 V336.9 M184.5,336.9 H190.10000000000002" stroke="#000" stroke-width="1.0" fill="none"/>
<path d="M198.85,288.9 V279.7 M195.65,279.7 H202.04999999999998" stroke="#000" stroke-width="0.9" fill="none"/>
<rect x="182.0" y="338.1" width="10.599999999999994" height="7.099999999999966" fill="#fff" stroke="#000" stroke-width="1.1"/>
<rect x="193.1" y="288.9" width="11.5" height="56.30000000000001" fill="#000"/>
<rect x="192.6" y="345.2" width="1" height="3" fill="#000"/>
<text class="b" x="193.1" y="354.0" font-size="6.8" text-anchor="middle">T-ALL</text>
<text class="b" x="193.1" y="362.6" font-size="6.8" text-anchor="middle">#295</text>
<path d="M221.95,340.4 V338.1 M219.14999999999998,338.1 H224.75" stroke="#000" stroke-width="1.0" fill="none"/>
<path d="M233.5,288 V282.7 M230.3,282.7 H236.7" stroke="#000" stroke-width="0.9" fill="none"/>
<rect x="216.7" y="340.9" width="10.5" height="4.300000000000011" fill="#fff" stroke="#000" stroke-width="1.1"/>
<rect x="227.7" y="288" width="11.600000000000023" height="57.19999999999999" fill="#000"/>
<rect x="227.2" y="345.2" width="1" height="3" fill="#000"/>
<text class="b" x="227.7" y="354.0" font-size="6.8" text-anchor="middle">T-ALL</text>
<text class="b" x="227.7" y="362.6" font-size="6.8" text-anchor="middle">#315</text>
<path d="M258,274.7 V344.6 H361.2" stroke="#000" stroke-width="1" fill="none"/>
<rect x="255.4" y="274.7" width="2.6" height="1" fill="#000"/>
<text class="b" x="254.8" y="276.9" font-size="4.8" text-anchor="end">1.5</text>
<rect x="255.4" y="297.8" width="2.6" height="1" fill="#000"/>
<text class="b" x="254.8" y="300.0" font-size="4.8" text-anchor="end">1.0</text>
<rect x="255.4" y="320.9" width="2.6" height="1" fill="#000"/>
<text class="b" x="254.8" y="323.09999999999997" font-size="4.8" text-anchor="end">0.5</text>
<rect x="255.4" y="344.1" width="2.6" height="1" fill="#000"/>
<text class="b" x="254.8" y="346.3" font-size="4.8" text-anchor="end">0.0</text>
<path d="M269.1,339.2 V335.8 M266.3,335.8 H271.90000000000003" stroke="#000" stroke-width="1.0" fill="none"/>
<path d="M280.95000000000005,332.8 V326.5 M277.75000000000006,326.5 H284.15000000000003" stroke="#000" stroke-width="0.9" fill="none"/>
<rect x="263.6" y="339.7" width="11.0" height="4.900000000000034" fill="#fff" stroke="#000" stroke-width="1.1"/>
<rect x="275.1" y="332.8" width="11.699999999999989" height="11.800000000000011" fill="#000"/>
<rect x="274.6" y="344.6" width="1" height="3" fill="#000"/>
<text class="b" x="275.1" y="353.40000000000003" font-size="6.8" text-anchor="middle">media</text>
<path d="M304.0,313.8 V306.9 M301.2,306.9 H306.8" stroke="#000" stroke-width="1.0" fill="none"/>
<path d="M315.55,302.3 V292.4 M312.35,292.4 H318.75" stroke="#000" stroke-width="0.9" fill="none"/>
<rect x="298.7" y="314.3" width="10.600000000000023" height="30.30000000000001" fill="#fff" stroke="#000" stroke-width="1.1"/>
<rect x="309.8" y="302.3" width="11.5" height="42.30000000000001" fill="#000"/>
<rect x="309.3" y="344.6" width="1" height="3" fill="#000"/>
<text class="b" x="309.8" y="353.40000000000003" font-size="6.8" text-anchor="middle">T-ALL</text>
<text class="b" x="309.8" y="362.00000000000006" font-size="6.8" text-anchor="middle">#295</text>
<path d="M338.05,325.8 V321.9 M335.25,321.9 H340.85" stroke="#000" stroke-width="1.0" fill="none"/>
<path d="M349.6,305.8 V295.4 M346.40000000000003,295.4 H352.8" stroke="#000" stroke-width="0.9" fill="none"/>
<rect x="332.8" y="326.3" width="10.5" height="18.30000000000001" fill="#fff" stroke="#000" stroke-width="1.1"/>
<rect x="343.8" y="305.8" width="11.599999999999966" height="38.80000000000001" fill="#000"/>
<rect x="343.3" y="344.6" width="1" height="3" fill="#000"/>
<text class="b" x="343.8" y="353.40000000000003" font-size="6.8" text-anchor="middle">T-ALL</text>
<text class="b" x="343.8" y="362.00000000000006" font-size="6.8" text-anchor="middle">#315</text>
<text class="b" transform="translate(16.5,233.5) rotate(-90)" font-size="8.05" text-anchor="middle">% positive cells</text>
<text class="b" transform="translate(16.5,310.9) rotate(-90)" font-size="8.05" text-anchor="middle">% positive cells</text>
<rect x="360.9" y="194.5" width="7.4" height="6.2" fill="#fff" stroke="#000" stroke-width="1.2"/>
<rect x="360.5" y="204.4" width="7.6" height="6.8" fill="#000"/>
<text class="r" x="372.5" y="200.7" font-size="8.5" style="stroke-width:0.55px">Ctrl CAR</text>
<text class="r" x="372.5" y="210.9" font-size="8.5" style="stroke-width:0.55px">CD5 CAR</text>
<text class="b" x="367.2" y="234.8" font-size="11.7">CD8+</text>
<rect x="367" y="236.0" width="23.8" height="1.35" fill="#000"/>
<text class="b" x="367.2" y="327" font-size="11.7">CD4+</text>
<rect x="367" y="328.1" width="23.8" height="1.35" fill="#000"/>
<text class="b" x="6.8" y="383.3" font-size="11">C</text>
<path d="M37.75,394.9 V540.3 H254" stroke="#000" stroke-width="2.1" fill="none" stroke-linejoin="miter"/>
<rect x="32.6" y="539.4499999999999" width="5.4" height="1.7" fill="#000"/>
<text class="b" x="31.5" y="544.0" font-size="10.3" text-anchor="end">0</text>
<rect x="32.6" y="510.56999999999994" width="5.4" height="1.7" fill="#000"/>
<text class="b" x="31.5" y="515.12" font-size="10.3" text-anchor="end">10</text>
<rect x="32.6" y="481.68999999999994" width="5.4" height="1.7" fill="#000"/>
<text class="b" x="31.5" y="486.23999999999995" font-size="10.3" text-anchor="end">20</text>
<rect x="32.6" y="452.80999999999995" width="5.4" height="1.7" fill="#000"/>
<text class="b" x="31.5" y="457.35999999999996" font-size="10.3" text-anchor="end">30</text>
<rect x="32.6" y="423.92999999999995" width="5.4" height="1.7" fill="#000"/>
<text class="b" x="31.5" y="428.47999999999996" font-size="10.3" text-anchor="end">40</text>
<rect x="32.6" y="395.04999999999995" width="5.4" height="1.7" fill="#000"/>
<text class="b" x="31.5" y="399.59999999999997" font-size="10.3" text-anchor="end">50</text>
<rect x="54.9" y="540.3" width="2.0" height="5.0" fill="#000"/>
<text class="b" x="55.9" y="556.2" font-size="10.8" text-anchor="middle">20:1</text>
<rect x="91.3" y="540.3" width="2.0" height="5.0" fill="#000"/>
<text class="b" x="92.3" y="556.2" font-size="10.8" text-anchor="middle">10:1</text>
<rect x="127.80000000000001" y="540.3" width="2.0" height="5.0" fill="#000"/>
<text class="b" x="128.8" y="556.2" font-size="10.8" text-anchor="middle">5:1</text>
<rect x="163.4" y="540.3" width="2.0" height="5.0" fill="#000"/>
<text class="b" x="164.4" y="556.2" font-size="10.8" text-anchor="middle">2.5:1</text>
<rect x="199.4" y="540.3" width="2.0" height="5.0" fill="#000"/>
<text class="b" x="200.4" y="556.2" font-size="10.8" text-anchor="middle">1:1</text>
<rect x="235.4" y="540.3" width="2.0" height="5.0" fill="#000"/>
<text class="b" x="236.4" y="556.2" font-size="10.8" text-anchor="middle">1:2</text>
<text class="b" x="145.8" y="572.6" font-size="11.5" text-anchor="middle">E:T ratio</text>
<text class="b" transform="translate(10.6,468) rotate(-90)" font-size="10.9" text-anchor="middle">% killing</text>
<text class="b" x="48.8" y="400.2" font-size="11.5">T-ALL #394</text>
<rect x="48.4" y="401.3" width="62.6" height="1" fill="#000"/>
<polyline points="55.9,415.2 92.3,442.1 128.8,473.0 164.4,465.2 200.4,465.2 236.4,492.6" fill="none" stroke="#000" stroke-width="3.7" stroke-linejoin="round" stroke-linecap="round"/>
<polyline points="55.9,531.1 92.3,529.3 128.8,523.3 164.4,538.0 200.4,518.6 236.4,521.5" fill="none" stroke="#000" stroke-width="3.9" stroke-linecap="round" stroke-linejoin="round" stroke-dasharray="0.01 8.1"/>
<circle cx="132.1" cy="399.2" r="1.95" fill="#000"/><circle cx="141" cy="399.2" r="1.95" fill="#000"/>
<text class="b" x="156.2" y="403.7" font-size="11.6">Mock transduced</text>
<path d="M132.2,416.3 H146.3" stroke="#000" stroke-width="3.8" stroke-linecap="round"/>
<text class="b" x="156.2" y="421.2" font-size="11.9">CD5 CAR</text>
<text class="b" x="288.4" y="382.7" font-size="10.8">D</text>
<text class="b" x="318.7" y="380" font-size="7.5" style="fill:#8b8b8b;stroke:#8b8b8b;stroke-width:0.25px">T-ALL #394</text>
<rect x="308.2" y="382.8" width="66.30000000000001" height="64.80000000000001" fill="#fff" stroke="#c0c0c0" stroke-width="0.7"/>
<text x="306.59999999999997" y="387.90000000000003" font-size="3.4" text-anchor="end" style="fill:#909090">100</text>
<text x="306.59999999999997" y="400.06000000000006" font-size="3.4" text-anchor="end" style="fill:#909090">80</text>
<text x="306.59999999999997" y="412.22" font-size="3.4" text-anchor="end" style="fill:#909090">60</text>
<text x="306.59999999999997" y="424.38000000000005" font-size="3.4" text-anchor="end" style="fill:#909090">40</text>
<text x="306.59999999999997" y="436.54" font-size="3.4" text-anchor="end" style="fill:#909090">20</text>
<text x="306.59999999999997" y="448.70000000000005" font-size="3.4" text-anchor="end" style="fill:#909090">0</text>
<rect x="308.0" y="449.8" width="2.4" height="1.4" fill="#bbb"/>
<rect x="339.0" y="449.8" width="2.4" height="1.4" fill="#bbb"/>
<rect x="372.3" y="449.8" width="2.4" height="1.4" fill="#bbb"/>
<path d="M309.02,446.50 C309.65,446.12 311.53,445.45 312.78,444.24 C314.04,443.03 315.50,441.15 316.55,439.22 C317.59,437.30 318.32,435.25 319.06,432.70 C319.79,430.15 320.35,427.05 320.94,423.91 C321.52,420.78 322.05,417.43 322.57,413.88 C323.09,410.32 323.62,405.93 324.08,402.58 C324.54,399.24 324.91,396.19 325.33,393.80 C325.75,391.42 326.25,389.37 326.58,388.28 C326.92,387.19 327.09,387.19 327.34,387.28 C327.59,387.36 327.73,387.28 328.09,388.78 C328.45,390.29 328.99,393.17 329.47,396.31 C329.95,399.45 330.45,403.63 330.98,407.60 C331.50,411.58 332.02,415.97 332.61,420.15 C333.19,424.33 333.86,429.14 334.49,432.70 C335.12,436.25 335.70,439.28 336.37,441.48 C337.04,443.68 337.79,444.91 338.50,445.87 C339.22,446.83 340.28,447.02 340.64,447.25 L340.64,447.6 L309.02,447.6 Z" fill="#c4c4c4" stroke="none"/>
<path d="M309.02,446.50 C309.65,446.12 311.53,445.45 312.78,444.24 C314.04,443.03 315.50,441.15 316.55,439.22 C317.59,437.30 318.32,435.25 319.06,432.70 C319.79,430.15 320.35,427.05 320.94,423.91 C321.52,420.78 322.05,417.43 322.57,413.88 C323.09,410.32 323.62,405.93 324.08,402.58 C324.54,399.24 324.91,396.19 325.33,393.80 C325.75,391.42 326.25,389.37 326.58,388.28 C326.92,387.19 327.09,387.19 327.34,387.28 C327.59,387.36 327.73,387.28 328.09,388.78 C328.45,390.29 328.99,393.17 329.47,396.31 C329.95,399.45 330.45,403.63 330.98,407.60 C331.50,411.58 332.02,415.97 332.61,420.15 C333.19,424.33 333.86,429.14 334.49,432.70 C335.12,436.25 335.70,439.28 336.37,441.48 C337.04,443.68 337.79,444.91 338.50,445.87 C339.22,446.83 340.28,447.02 340.64,447.25" fill="none" stroke="#2a2a2a" stroke-width="0.9"/>
<path d="M308.77,445.50 C309.23,445.04 310.65,444.24 311.53,442.74 C312.41,441.23 313.31,438.97 314.04,436.46 C314.77,433.95 315.33,430.82 315.92,427.68 C316.51,424.54 317.07,420.99 317.55,417.64 C318.03,414.30 318.39,410.95 318.81,407.60 C319.22,404.26 319.64,400.49 320.06,397.57 C320.48,394.64 320.90,391.82 321.31,390.04 C321.73,388.26 322.15,387.07 322.57,386.90 C322.99,386.73 323.43,387.47 323.82,389.03 C324.22,390.60 324.58,393.43 324.95,396.31 C325.33,399.20 325.71,402.79 326.08,406.35 C326.46,409.90 326.81,413.67 327.21,417.64 C327.61,421.61 328.05,426.42 328.47,430.19 C328.88,433.95 329.30,437.47 329.72,440.23 C330.14,442.99 330.77,445.66 330.98,446.75" fill="none" stroke="#000" stroke-width="1.0" stroke-dasharray="2 1.4"/>
<path d="M322.82,447.38 C323.45,446.94 325.54,446.14 326.58,444.74 C327.63,443.34 328.40,441.40 329.09,438.97 C329.78,436.55 330.27,433.32 330.73,430.19 C331.19,427.05 331.46,423.71 331.85,420.15 C332.25,416.60 332.69,412.62 333.11,408.86 C333.53,405.09 333.99,400.70 334.36,397.57 C334.74,394.43 335.03,391.75 335.37,390.04 C335.70,388.32 336.04,387.38 336.37,387.28 C336.71,387.17 336.92,387.49 337.38,389.41 C337.84,391.33 338.53,395.16 339.13,398.82 C339.74,402.48 340.39,407.19 341.01,411.37 C341.64,415.55 342.27,420.15 342.90,423.91 C343.52,427.68 344.05,430.92 344.78,433.95 C345.51,436.98 346.35,440.10 347.29,442.11 C348.23,444.12 349.27,445.10 350.42,446.00 C351.57,446.90 353.56,447.25 354.19,447.50" fill="none" stroke="#1c1c1c" stroke-width="0.95"/>
<path d="M308.5,443 V447.5" stroke="#333" stroke-width="0.8"/>
<text class="b" transform="translate(349,401.2) scale(0.93,1)" font-size="8.5">CD5</text>
<text class="b" transform="translate(349,413.8) scale(0.93,1)" font-size="8.5">CAR T</text>
<path d="M311,456.9 H374.4" stroke="#000" stroke-width="2.3" fill="none"/>
<path d="M369.09999999999997,452.7 L375.2,456.9 L369.09999999999997,461.09999999999997" stroke="#000" stroke-width="2.45" fill="none" stroke-linejoin="miter"/>
<text class="b" transform="translate(337.8,467) scale(0.97,1)" font-size="9.7" text-anchor="middle">PI-9</text>
<text class="b" x="288.4" y="477.2" font-size="10.8">E</text>
<text class="b" x="310" y="482" font-size="7.5" style="fill:#8b8b8b;stroke:#8b8b8b;stroke-width:0.25px">T-ALL #394</text>
<rect x="308.2" y="486.0" width="67.60000000000002" height="64.5" fill="#fff" stroke="#c0c0c0" stroke-width="0.7"/>
<text x="306.59999999999997" y="491.1" font-size="3.4" text-anchor="end" style="fill:#909090">100</text>
<text x="306.59999999999997" y="503.20000000000005" font-size="3.4" text-anchor="end" style="fill:#909090">80</text>
<text x="306.59999999999997" y="515.3000000000001" font-size="3.4" text-anchor="end" style="fill:#909090">60</text>
<text x="306.59999999999997" y="527.4" font-size="3.4" text-anchor="end" style="fill:#909090">40</text>
<text x="306.59999999999997" y="539.5" font-size="3.4" text-anchor="end" style="fill:#909090">20</text>
<text x="306.59999999999997" y="551.6" font-size="3.4" text-anchor="end" style="fill:#909090">0</text>
<rect x="308.0" y="552.7" width="2.4" height="1.4" fill="#bbb"/>
<rect x="339.0" y="552.7" width="2.4" height="1.4" fill="#bbb"/>
<rect x="373.6" y="552.7" width="2.4" height="1.4" fill="#bbb"/>
<path d="M308.77,549.50 C309.23,549.04 310.55,548.24 311.53,546.74 C312.51,545.23 313.72,542.76 314.66,540.46 C315.61,538.16 316.40,535.65 317.17,532.93 C317.95,530.21 318.64,527.29 319.31,524.15 C319.98,521.01 320.60,517.46 321.19,514.11 C321.77,510.77 322.30,507.11 322.82,504.08 C323.34,501.04 323.87,498.09 324.33,495.92 C324.79,493.74 325.20,492.07 325.58,491.03 C325.96,489.98 326.25,489.56 326.58,489.65 C326.92,489.73 327.21,489.96 327.59,491.53 C327.96,493.10 328.38,495.92 328.84,499.06 C329.30,502.19 329.85,506.58 330.35,510.35 C330.85,514.11 331.33,517.88 331.85,521.64 C332.38,525.41 332.94,529.59 333.49,532.93 C334.03,536.28 334.55,539.31 335.12,541.72 C335.68,544.12 336.20,545.98 336.87,547.36 C337.54,548.74 338.40,549.45 339.13,550.00 C339.86,550.54 340.91,550.52 341.26,550.62 L341.26,550.4 L308.77,550.4 Z" fill="#c4c4c4" stroke="none"/>
<path d="M308.77,549.50 C309.23,549.04 310.55,548.24 311.53,546.74 C312.51,545.23 313.72,542.76 314.66,540.46 C315.61,538.16 316.40,535.65 317.17,532.93 C317.95,530.21 318.64,527.29 319.31,524.15 C319.98,521.01 320.60,517.46 321.19,514.11 C321.77,510.77 322.30,507.11 322.82,504.08 C323.34,501.04 323.87,498.09 324.33,495.92 C324.79,493.74 325.20,492.07 325.58,491.03 C325.96,489.98 326.25,489.56 326.58,489.65 C326.92,489.73 327.21,489.96 327.59,491.53 C327.96,493.10 328.38,495.92 328.84,499.06 C329.30,502.19 329.85,506.58 330.35,510.35 C330.85,514.11 331.33,517.88 331.85,521.64 C332.38,525.41 332.94,529.59 333.49,532.93 C334.03,536.28 334.55,539.31 335.12,541.72 C335.68,544.12 336.20,545.98 336.87,547.36 C337.54,548.74 338.40,549.45 339.13,550.00 C339.86,550.54 340.91,550.52 341.26,550.62" fill="none" stroke="#1a1a1a" stroke-width="1.0" stroke-dasharray="2.2 0.9"/>
<path d="M309.02,550.12 C310.27,550.02 314.25,549.83 316.55,549.50 C318.85,549.16 321.04,548.76 322.82,548.12 C324.60,547.47 325.96,546.76 327.21,545.61 C328.47,544.46 329.41,543.12 330.35,541.21 C331.29,539.31 332.13,536.82 332.86,534.19 C333.59,531.55 334.15,528.54 334.74,525.41 C335.33,522.27 335.85,518.71 336.37,515.37 C336.89,512.02 337.38,508.47 337.88,505.33 C338.38,502.19 338.92,498.85 339.38,496.55 C339.84,494.25 340.26,492.62 340.64,491.53 C341.01,490.44 341.31,490.02 341.64,490.02 C341.98,490.02 342.23,490.23 342.64,491.53 C343.06,492.82 343.59,494.87 344.15,497.80 C344.72,500.73 345.41,505.12 346.03,509.09 C346.66,513.07 347.29,517.67 347.91,521.64 C348.54,525.61 349.17,529.59 349.80,532.93 C350.42,536.28 351.05,539.31 351.68,541.72 C352.31,544.12 352.83,545.98 353.56,547.36 C354.29,548.74 355.09,549.43 356.07,550.00 C357.05,550.56 358.89,550.62 359.46,550.75" fill="none" stroke="#1c1c1c" stroke-width="0.95"/>
<path d="M308.6,516 V550.2" stroke="#222" stroke-width="0.9"/>
<text class="b" transform="translate(351.6,500.1) scale(0.93,1)" font-size="8.5">CD5</text>
<text class="b" transform="translate(351.6,512.6) scale(0.93,1)" font-size="8.5">CAR T</text>
<path d="M309.8,562.3 H374.1" stroke="#000" stroke-width="2.3" fill="none"/>
<path d="M368.8,558.0999999999999 L374.90000000000003,562.3 L368.8,566.5" stroke="#000" stroke-width="2.45" fill="none" stroke-linejoin="miter"/>
<text class="b" transform="translate(336.6,571.6) scale(0.97,1)" font-size="9.7" text-anchor="middle">Bcl-2</text>
<text class="b" transform="translate(465.6,385.2) scale(0.88,1)" font-size="11.1" text-anchor="middle">PI-9 MFI</text>
<path d="M415.2,377.59999999999997 V459.4 H510" stroke="#000" stroke-width="1.3" fill="none"/>
<rect x="412.5" y="377.65" width="2.8" height="1.1" fill="#000"/>
<text class="b" x="412.3" y="379.8" font-size="4.6" text-anchor="end">10000</text>
<rect x="412.5" y="393.84999999999997" width="2.8" height="1.1" fill="#000"/>
<text class="b" x="412.3" y="396.0" font-size="4.6" text-anchor="end">8000</text>
<rect x="412.5" y="410.15" width="2.8" height="1.1" fill="#000"/>
<text class="b" x="412.3" y="412.3" font-size="4.6" text-anchor="end">6000</text>
<rect x="412.5" y="426.34999999999997" width="2.8" height="1.1" fill="#000"/>
<text class="b" x="412.3" y="428.5" font-size="4.6" text-anchor="end">4000</text>
<rect x="412.5" y="442.65" width="2.8" height="1.1" fill="#000"/>
<text class="b" x="412.3" y="444.8" font-size="4.6" text-anchor="end">2000</text>
<rect x="412.5" y="458.84999999999997" width="2.8" height="1.1" fill="#000"/>
<text class="b" x="412.3" y="461.0" font-size="4.6" text-anchor="end">0</text>
<path d="M431.1,395.2 V387.8 M426.4,387.8 H436" stroke="#000" stroke-width="1" fill="none"/>
<rect x="420" y="395.2" width="22" height="64.19999999999999" fill="#000"/>
<rect x="451.2" y="427.6" width="22.6" height="31.799999999999955" fill="#7f7f7f"/>
<rect x="483.7" y="437.7" width="20.8" height="21.699999999999978" fill="#fff" stroke="#000" stroke-width="1.2"/>
<rect x="430.55" y="459.4" width="1.1" height="2.6" fill="#000"/>
<rect x="461.95" y="459.4" width="1.1" height="2.6" fill="#000"/>
<rect x="493.55" y="459.4" width="1.1" height="2.6" fill="#000"/>
<text class="b" x="430.6" y="467.1" font-size="5.05" text-anchor="middle">CD5 CAR T</text>
<text class="b" x="461.9" y="467.1" font-size="5.05" text-anchor="middle">T-ALL #394</text>
<text class="b" x="494.4" y="467.1" font-size="5.05" text-anchor="middle">Jurkat</text>
<text class="b" transform="translate(396.9,419.0) rotate(-90)" font-size="6.08" text-anchor="middle">Mean Fluorescence Intensity</text>
<text class="b" transform="translate(471,487.0) scale(0.88,1)" font-size="11.1" text-anchor="middle">Bcl-2 MFI</text>
<path d="M415.2,479.9 V562.5 H510" stroke="#000" stroke-width="1.3" fill="none"/>
<rect x="412.5" y="479.95" width="2.8" height="1.1" fill="#000"/>
<text class="b" x="412.3" y="482.1" font-size="4.6" text-anchor="end">15000</text>
<rect x="412.5" y="507.25" width="2.8" height="1.1" fill="#000"/>
<text class="b" x="412.3" y="509.40000000000003" font-size="4.6" text-anchor="end">10000</text>
<rect x="412.5" y="534.6500000000001" width="2.8" height="1.1" fill="#000"/>
<text class="b" x="412.3" y="536.8000000000001" font-size="4.6" text-anchor="end">5000</text>
<rect x="412.5" y="561.95" width="2.8" height="1.1" fill="#000"/>
<text class="b" x="412.3" y="564.1" font-size="4.6" text-anchor="end">0</text>
<path d="M431.1,507.4 V498.9 M426.4,498.9 H436" stroke="#000" stroke-width="1" fill="none"/>
<rect x="420" y="507.4" width="22" height="55.10000000000002" fill="#000"/>
<rect x="451.2" y="541.7" width="22.6" height="20.799999999999955" fill="#7f7f7f"/>
<rect x="483.7" y="541.9000000000001" width="20.8" height="20.599999999999955" fill="#fff" stroke="#000" stroke-width="1.2"/>
<rect x="430.55" y="562.5" width="1.1" height="2.6" fill="#000"/>
<rect x="461.95" y="562.5" width="1.1" height="2.6" fill="#000"/>
<rect x="493.55" y="562.5" width="1.1" height="2.6" fill="#000"/>
<text class="b" x="430.6" y="570.6" font-size="5.05" text-anchor="middle">CD5 CAR T</text>
<text class="b" x="461.9" y="570.6" font-size="5.05" text-anchor="middle">T-ALL #394</text>
<text class="b" x="494.4" y="570.6" font-size="5.05" text-anchor="middle">Jurkat</text>
<text class="b" transform="translate(395.9,522.0) rotate(-90)" font-size="6.08" text-anchor="middle">Mean Fluorescence Intensity</text>
</g></svg></body></html>
